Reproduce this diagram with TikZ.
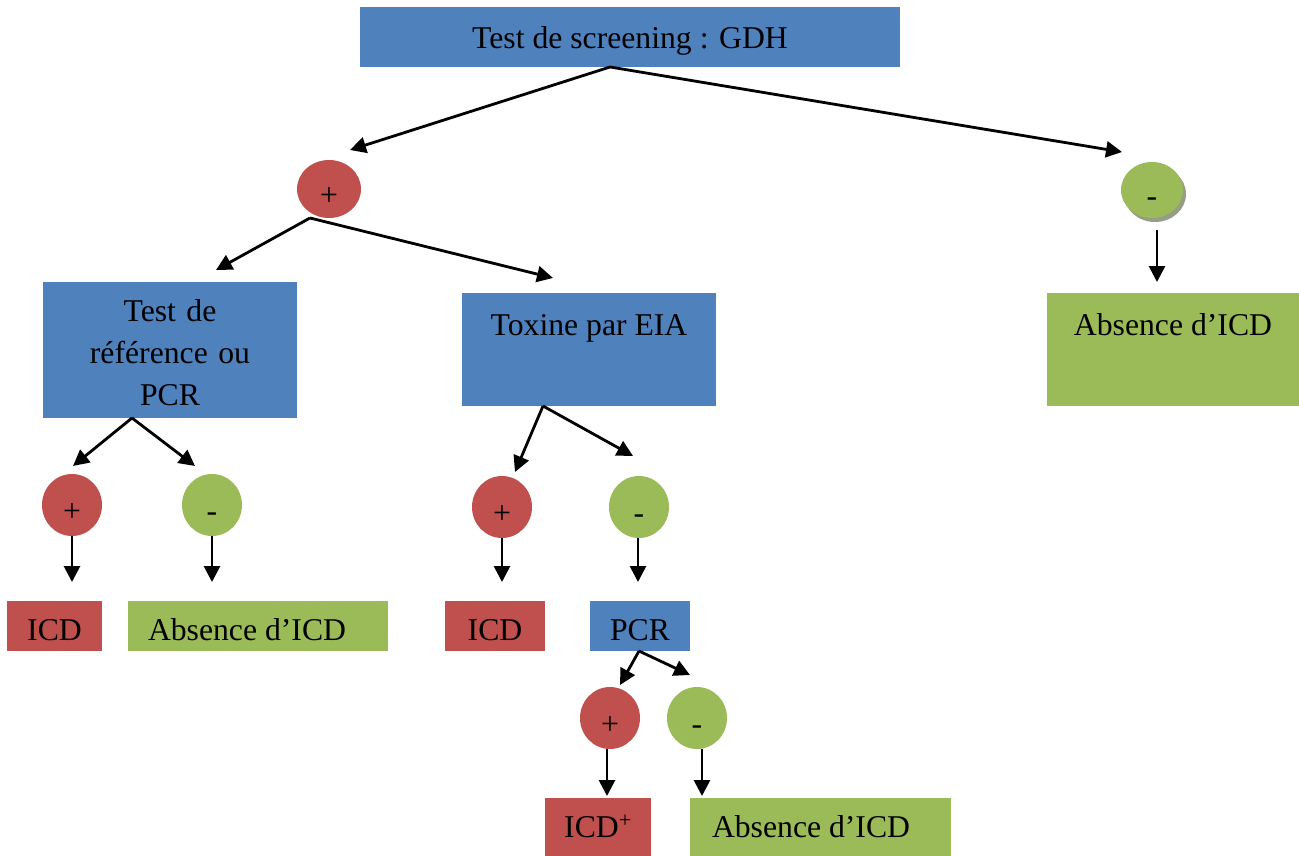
\documentclass[tikz,border=0pt]{standalone}
\usepackage{fontspec}
\setmainfont{Liberation Serif}
\usetikzlibrary{shapes.geometric,arrows.meta}
\definecolor{cblue}{HTML}{4F81BD}
\definecolor{cred}{HTML}{C0504D}
\definecolor{cgreen}{HTML}{9BBB59}
\definecolor{cshadow}{HTML}{969C86}
\begin{document}
\begin{tikzpicture}[x=1pt,y=-1pt,
  every node/.style={font=\fontsize{31.7}{42}\selectfont, inner sep=0pt, outer sep=0pt},
  bluebox/.style={rectangle, fill=cblue, align=center},
  redbox/.style={rectangle, fill=cred, align=center},
  greenbox/.style={rectangle, fill=cgreen, align=center},
  lowtext/.style={text height=28pt, text depth=0pt},
  midtext/.style={text height=20pt, text depth=0pt},
  circtext/.style={text height=32pt, text depth=0pt},
  redc/.style={ellipse, fill=cred, minimum width=60pt, minimum height=62pt, circtext},
  greenc/.style={ellipse, fill=cgreen, minimum width=60pt, minimum height=62pt, circtext},
  toplabel/.style={label={[anchor=base, yshift=-42pt]north:#1}},
  arr/.style={line width=2.8pt, -{Triangle[length=16pt,width=16pt]}}]
\useasboundingbox (0,0) rectangle (1299,856);

% boxes
\node[bluebox, minimum width=540pt, minimum height=60pt, text height=24pt, text depth=0pt] (gdh) at (630,37) {Test de screening : GDH};
\node[bluebox, minimum width=254pt, minimum height=136pt,
  label={[align=center, text width=254pt, yshift=-3pt]center:Test de\\référence ou\\PCR}] (ref) at (170,350) {};
\node[bluebox, minimum width=254pt, minimum height=113pt, toplabel={Toxine par EIA}] (tox) at (589,349.5) {};
\node[greenbox, minimum width=252pt, minimum height=113pt, toplabel={Absence d’ICD}] (abs0) at (1173,349.5) {};

\node[redbox, minimum width=95pt, minimum height=50pt, lowtext] (icd1) at (54.5,626) {ICD};
\node[greenbox, minimum width=260pt, minimum height=50pt, lowtext] (abs1) at (258,626) {\makebox[260pt][l]{\hspace{20pt}Absence d’ICD}};
\node[redbox, minimum width=100pt, minimum height=50pt, lowtext] (icd2) at (495,626) {ICD};
\node[bluebox, minimum width=100pt, minimum height=50pt, lowtext] (pcr) at (640,626) {PCR};
\node[redbox, minimum width=106pt, minimum height=58pt, midtext] (icd3) at (598,827) {ICD\textsuperscript{+}};
\node[greenbox, minimum width=261pt, minimum height=58pt, midtext] (abs3) at (820.5,827) {\makebox[261pt][l]{\hspace{22pt}Absence d’ICD}};

% circles
\node[redc, minimum width=64pt, minimum height=58pt] (p1) at (329,189) {+};
\fill[cshadow] (1155,194) ellipse (31pt and 28pt);
\node[greenc, minimum width=62pt, minimum height=56pt] (m1) at (1152,190) {-};
\node[redc] (p2) at (72,505) {+};
\node[greenc] (m2) at (212,505) {-};
\node[redc] (p3) at (502,507) {+};
\node[greenc] (m3) at (639,507) {-};
\node[redc] (p4) at (610,718) {+};
\node[greenc] (m4) at (697,718) {-};

% arrow end points
\coordinate (tp1) at (350,150);
\coordinate (tm1) at (1122,152);
\coordinate (tabs0) at (1157,282);
\coordinate (tref) at (216,270);
\coordinate (ttox) at (553,278);
\coordinate (tp2) at (73,466);
\coordinate (tm2) at (195,466);
\coordinate (tp3) at (515,472);
\coordinate (tm3) at (633,456);
\coordinate (ticd1) at (72,582);
\coordinate (tabs1) at (212,582);
\coordinate (ticd2) at (502,582);
\coordinate (tpcr) at (638,582);
\coordinate (tp4) at (620,685);
\coordinate (tm4) at (690,675);
\coordinate (ticd3) at (607,796);
\coordinate (tabs3) at (702,796);

% connectors
\draw[arr] ([xshift=-20pt]gdh.south) -- (tp1);
\draw[arr] ([xshift=-20pt]gdh.south) -- (tm1);
\draw[arr] ([xshift=5pt,yshift=-12pt]m1.south) -- (tabs0);
\draw[arr] ([xshift=-19pt]p1.south) -- (tref);
\draw[arr] ([xshift=-19pt]p1.south) -- (ttox);
\draw[arr] ([xshift=-38pt]ref.south) -- (tp2);
\draw[arr] ([xshift=-38pt]ref.south) -- (tm2);
\draw[arr] ([xshift=-46pt]tox.south) -- (tp3);
\draw[arr] ([xshift=-46pt]tox.south) -- (tm3);
\draw[arr] (p2.south) -- (ticd1);
\draw[arr] (m2.south) -- (tabs1);
\draw[arr] (p3.south) -- (ticd2);
\draw[arr] ([xshift=-1pt]m3.south) -- (tpcr);
\draw[arr] ([xshift=-1pt]pcr.south) -- (tp4);
\draw[arr] ([xshift=-1pt]pcr.south) -- (tm4);
\draw[arr] ([xshift=-3pt]p4.south) -- (ticd3);
\draw[arr] ([xshift=5pt]m4.south) -- (tabs3);
\end{tikzpicture}
\end{document}
